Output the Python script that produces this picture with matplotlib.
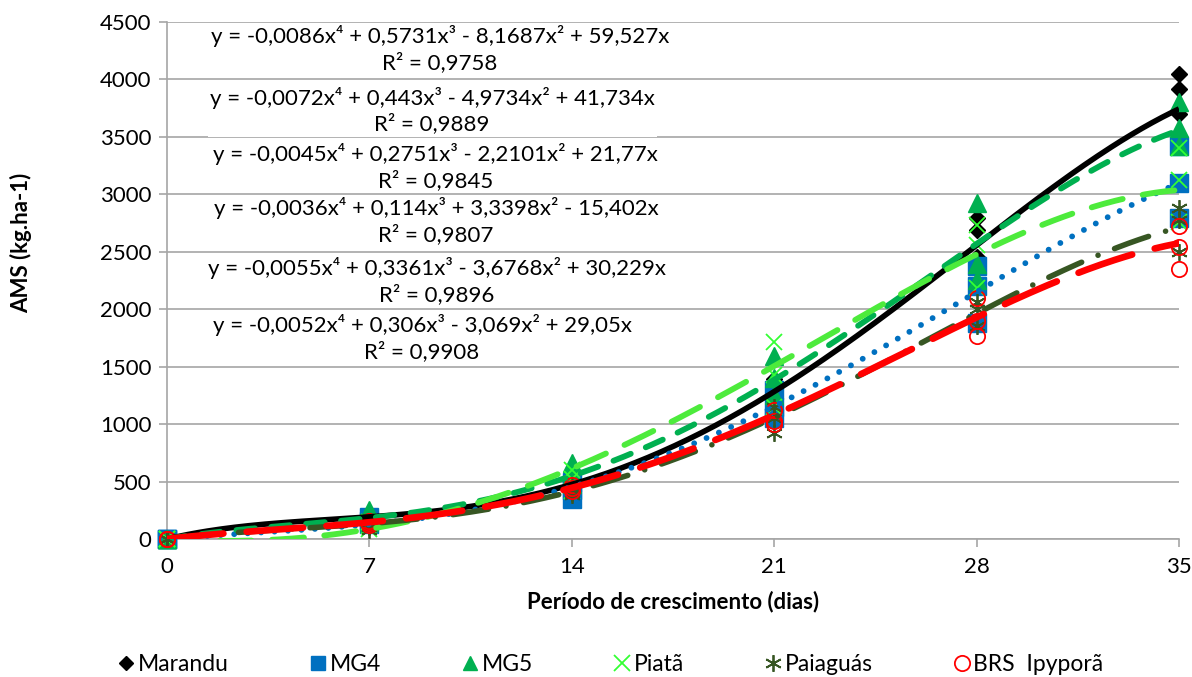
import numpy as np
import matplotlib.pyplot as plt
from matplotlib.lines import Line2D

plt.rcParams['font.family'] = ['Lato', 'DejaVu Sans']

# growth days (x axis)
days = [0, 7, 14, 21, 28, 35]

# three replicates per day (kg/ha)
marandu = [[0, 0, 0], [170, 150, 190], [480, 450, 520], [1390, 1250, 1200], [2790, 2690, 2450], [4050, 3920, 3700]]
mg4 = [[0, 0, 0], [190, 160, 130], [500, 430, 350], [1300, 1150, 1050], [2380, 2200, 1880], [3420, 3100, 2790]]
mg5 = [[0, 0, 0], [250, 190, 150], [660, 560, 480], [1590, 1400, 1250], [2920, 2390, 2250], [3800, 3580, 3420]]
piata = [[0, 0, 0], [110, 90, 150], [600, 520, 420], [1710, 1430, 1150], [2730, 2560, 2180], [3400, 3120, 2760]]
paiaguas = [[0, 0, 0], [100, 80, 120], [400, 380, 460], [920, 1050, 1150], [2060, 1850, 2000], [2880, 2500, 2780]]
brs = [[0, 0, 0], [120, 140, 160], [470, 440, 420], [1120, 1030, 1000], [2100, 1900, 1765], [2720, 2540, 2350]]

# polynomial trend lines (4th order, zero intercept)
coef_marandu = [-0.0086, 0.5731, -8.1687, 59.527, 0]
coef_mg5 = [-0.0072, 0.443, -4.9734, 41.734, 0]
coef_mg4 = [-0.0045, 0.2751, -2.2101, 21.77, 0]
coef_piata = [-0.0036, 0.114, 3.3398, -15.402, 0]
coef_paiaguas = [-0.0055, 0.3361, -3.6768, 30.229, 0]
coef_brs = [-0.0052, 0.306, -3.069, 29.05, 0]

names = ["Marandu", "MG4", "MG5", "Piatã", "Paiaguás", "BRS  Ipyporã"]

eq_labels = [
    "y = -0,0086x⁴ + 0,5731x³ - 8,1687x² + 59,527x\nR² = 0,9758",
    "y = -0,0072x⁴ + 0,443x³ - 4,9734x² + 41,734x\nR² = 0,9889",
    "y = -0,0045x⁴ + 0,2751x³ - 2,2101x² + 21,77x\nR² = 0,9845",
    "y = -0,0036x⁴ + 0,114x³ + 3,3398x² - 15,402x\nR² = 0,9807",
    "y = -0,0055x⁴ + 0,3361x³ - 3,6768x² + 30,229x\nR² = 0,9896",
    "y = -0,0052x⁴ + 0,306x³ - 3,069x² + 29,05x\nR² = 0,9908",
]
eq_pos = [(9.44, 4263), (9.17, 3729), (9.30, 3240), (9.30, 2764), (9.34, 2242), (8.82, 1746)]

fig = plt.figure(figsize=(11.92, 6.77), dpi=100)
ax = fig.add_axes([0.1401, 0.2039, 0.849, 0.7637])

# series: data, marker, color, size, trend coef, line style
series = [
    (marandu, "D", "black", 8.5, coef_marandu, dict(color="black", ls="-", lw=4)),
    (mg4, "s", "#0070C0", 12.5, coef_mg4, dict(color="#0070C0", lw=4.2, dashes=(0.01, 2.3), dash_capstyle="round")),
    (mg5, "^", "#00B050", 12.5, coef_mg5, dict(color="#00B050", lw=4.2, dashes=(3.2, 2.8), dash_capstyle="round")),
    (piata, "x", "#33FF33", 11, coef_piata, dict(color="#4DEB3C", lw=4.2, dashes=(5.5, 3.5), dash_capstyle="round")),
    (paiaguas, (6, 2, 0), "#375623", 12, coef_paiaguas, dict(color="#375623", lw=4, dashes=(6.5, 3.2, 0.01, 3.2), dash_capstyle="round")),
    (brs, "o", "#FF0000", 11, coef_brs, dict(color="#FF0000", lw=4.8, dashes=(8.5, 3.5), dash_capstyle="round")),
]

xs = np.linspace(0, 35, 300)
handles = []
for i, (data, mk, col, ms, coef, style) in enumerate(series):
    xv = np.repeat(days, 3)
    yv = np.array(data).ravel()
    if mk in ("x", "o") or isinstance(mk, tuple):
        ax.plot(xv, yv, ls="none", marker=mk, ms=ms, mfc="none", mec=col, mew=1.3,
                clip_on=False, zorder=3)
        h = Line2D([], [], ls="none", marker=mk, ms=ms, mfc="none", mec=col, mew=1.3)
    else:
        ax.plot(xv, yv, ls="none", marker=mk, ms=ms, mfc=col, mec=col,
                clip_on=False, zorder=3)
        h = Line2D([], [], ls="none", marker=mk, ms=ms * 0.8, mfc=col, mec=col)
    handles.append(h)

for i, (data, mk, col, ms, coef, style) in enumerate(series):
    ax.plot(xs, np.polyval(coef, xs), zorder=4 + i, solid_capstyle="butt", **style)

for i, (lab, pos) in enumerate(zip(eq_labels, eq_pos)):
    ax.text(pos[0], pos[1], lab, ha="center", va="center", multialignment="center",
            fontsize=16, linespacing=1.3, zorder=20 + i,
            bbox=dict(facecolor="white", edgecolor="none", pad=1.5))

ax.set_xlim(0, 35)
ax.set_ylim(0, 4500)
ax.set_xticks(days)
ax.set_yticks(np.arange(0, 4501, 500))
ax.yaxis.grid(True, color="#A6A6A6", lw=1.2)
ax.set_axisbelow(True)
for s in ["top", "right"]:
    ax.spines[s].set_visible(False)
for s in ["left", "bottom"]:
    ax.spines[s].set_color("#A6A6A6")
    ax.spines[s].set_linewidth(1.2)
ax.tick_params(axis="both", colors="#A6A6A6", length=6, width=1.2, labelsize=16,
               labelcolor="black")
ax.tick_params(axis="y", pad=5)
ax.tick_params(axis="x", pad=7)

ax.set_xlabel("Período de crescimento (dias)", fontsize=16, fontweight="bold", labelpad=10)
ax.set_ylabel("AMS (kg.ha-1)", fontsize=16, fontweight="bold")
ax.yaxis.set_label_coords(-0.133, 0.573)

fig.legend(handles, names, loc="center", bbox_to_anchor=(0.513, 0.018), ncol=6,
           frameon=False, fontsize=16.5, handlelength=0.6, handletextpad=0.2,
           columnspacing=3.6)

fig.savefig("out.png", dpi=100)
